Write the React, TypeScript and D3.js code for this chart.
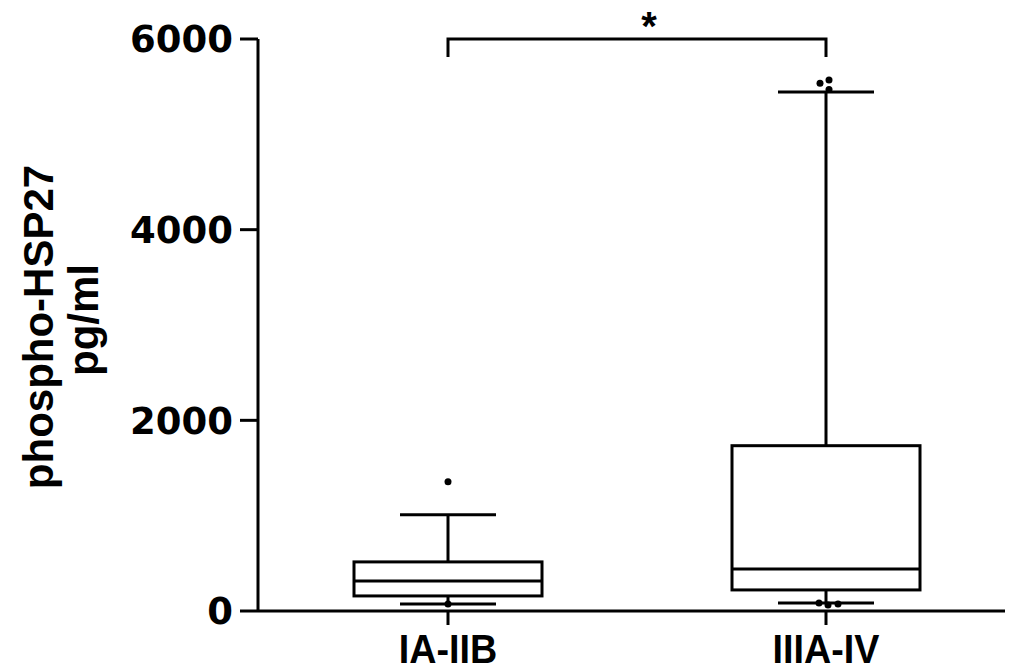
import React from "react";
import * as d3 from "d3";

const categories = ["IA-IIB", "IIIA-IV"];
const q1 = [158, 221];
const medians = [315, 441];
const q3 = [515, 1734];
const whiskerLow = [74, 84];
const whiskerHigh = [1009, 5443];
const outliers = [
  { cat: "IA-IIB", value: 1355, dx: 0 },
  { cat: "IA-IIB", value: 74, dx: 0 },
  { cat: "IIIA-IV", value: 5537, dx: -6 },
  { cat: "IIIA-IV", value: 5569, dx: 3 },
  { cat: "IIIA-IV", value: 5470, dx: 3 },
  { cat: "IIIA-IV", value: 84, dx: -7 },
  { cat: "IIIA-IV", value: 63, dx: 2 },
  { cat: "IIIA-IV", value: 73, dx: 12 },
];
const yTicks = [0, 2000, 4000, 6000];

export default function App() {
  const W = 1013, H = 671;
  const axisX = 258;
  const y = d3.scaleLinear().domain([0, 6000]).range([611, 39]);
  const x = d3.scalePoint<string>().domain(categories).range([448, 826]);
  const boxHalf = 94;
  const capHalf = 48;
  const font = "'Liberation Sans', Arial, sans-serif";
  const tickFont = "'DejaVu Sans', Verdana, sans-serif";
  const sw = 3;
  const bracketY = y(6000);

  return (
    <svg width={W} height={H} style={{ position: "absolute", left: 0, top: 0 }}>
      <rect width={W} height={H} fill="#fff" />
      {/* y axis */}
      <line x1={axisX} x2={axisX} y1={y(6000)} y2={y(0)} stroke="#000" strokeWidth={sw} />
      {yTicks.map((t) => (
        <g key={t}>
          <line x1={axisX - 18} x2={axisX} y1={y(t)} y2={y(t)} stroke="#000" strokeWidth={sw} />
          <text x={233} y={y(t)} dy="0.36em" textAnchor="end" fontFamily={tickFont} fontWeight="bold" fontSize={37}>
            {t}
          </text>
        </g>
      ))}
      {/* x axis */}
      <line x1={axisX} x2={1005} y1={y(0)} y2={y(0)} stroke="#000" strokeWidth={sw} />
      {categories.map((c) => (
        <g key={c}>
          <line x1={x(c)} x2={x(c)} y1={y(0)} y2={y(0) + 14} stroke="#000" strokeWidth={sw} />
          <text
            transform={`translate(${x(c)},663) scale(0.92,1)`}
            textAnchor="middle"
            fontFamily={font}
            fontWeight="bold"
            fontSize={41}
          >
            {c}
          </text>
        </g>
      ))}
      {/* y title */}
      <text transform={`translate(53,327) rotate(-90)`} textAnchor="middle" fontFamily={font} fontWeight="bold" fontSize={42}>
        phospho-HSP27
      </text>
      <text transform={`translate(98,320) rotate(-90)`} textAnchor="middle" fontFamily={font} fontWeight="bold" fontSize={42}>
        pg/ml
      </text>
      {/* boxes */}
      {categories.map((c, i) => {
        const cx = x(c)!;
        return (
          <g key={c} stroke="#000" strokeWidth={sw} fill="none">
            <line x1={cx} x2={cx} y1={y(q3[i])} y2={y(whiskerHigh[i])} />
            <line x1={cx} x2={cx} y1={y(q1[i])} y2={y(whiskerLow[i])} />
            <line x1={cx - capHalf} x2={cx + capHalf} y1={y(whiskerHigh[i])} y2={y(whiskerHigh[i])} />
            <line x1={cx - capHalf} x2={cx + capHalf} y1={y(whiskerLow[i])} y2={y(whiskerLow[i])} />
            <rect x={cx - boxHalf} y={y(q3[i])} width={boxHalf * 2} height={y(q1[i]) - y(q3[i])} fill="#fff" />
            <line x1={cx - boxHalf} x2={cx + boxHalf} y1={y(medians[i])} y2={y(medians[i])} />
          </g>
        );
      })}
      {outliers.map((o, i) => (
        <circle key={i} cx={x(o.cat)! + o.dx} cy={y(o.value)} r={3.5} fill="#000" />
      ))}
      {/* significance bracket */}
      <path
        d={`M${x(categories[0])},${bracketY + 18}V${bracketY}H${x(categories[1])}V${bracketY + 18}`}
        fill="none"
        stroke="#000"
        strokeWidth={sw}
      />
      <text x={649} y={40} textAnchor="middle" fontFamily={font} fontWeight="bold" fontSize={40}>
        *
      </text>
    </svg>
  );
}
